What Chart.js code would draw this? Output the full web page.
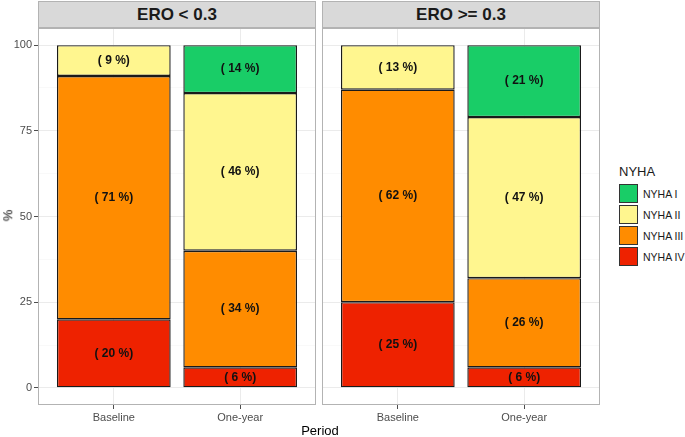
<!DOCTYPE html>
<html lang="en">
<head>
    <meta charset="UTF-8">
    <title>NYHA by ERO</title>
    <script src="https://cdn.jsdelivr.net/npm/chart.js"></script>
    <style>
        body { margin: 0; background: #fff; font-family: "Liberation Sans", Arial, sans-serif; overflow: hidden; }
        #wrap { position: relative; width: 685px; height: 437px; }
        canvas { position: absolute; top: 0; }
        .strip {
            position: absolute; top: 1px; height: 27px; box-sizing: border-box;
            background: #d9d9d9; border: 1px solid #b3b3b3;
            font-size: 17px; font-weight: bold; color: #1a1a1a; text-align: center; line-height: 25px;
        }
        .legend { position: absolute; left: 619px; top: 164px; font-size: 10.5px; color: #1a1a1a; white-space: nowrap; }
        .legend .title { font-size: 13px; margin-bottom: 4px; }
        .legend .row { display: flex; align-items: center; height: 21px; }
        .legend .key { width: 17px; height: 17px; border: 1px solid #333; margin-right: 5px; flex: none; }
    </style>
</head>
<body>
<div id="wrap">
    <canvas id="panelLow" style="left:0px"></canvas>
    <canvas id="panelHigh" style="left:322px"></canvas>
    <div class="strip" style="left:38px;width:278px">ERO &lt; 0.3</div>
    <div class="strip" style="left:322px;width:278px">ERO &gt;= 0.3</div>
    <div style="position:absolute;left:0;width:640px;top:423px;text-align:center;font-size:13px;color:#000;">Period</div>
    <div style="position:absolute;left:2px;top:208px;font-size:13px;color:#000;transform:rotate(-90deg);">%</div>
    <div class="legend" id="legend"></div>
</div>

<script>
    // data
    const periods = ["Baseline", "One-year"];
    const facets = ["ERO < 0.3", "ERO >= 0.3"];
    const classes = ["NYHA I", "NYHA II", "NYHA III", "NYHA IV"];
    const colors = ["#19cd67", "#fff68f", "#ff8c00", "#ee2200"];
    const yTicks = [0, 25, 50, 75, 100];

    const lowI = [null, 14];
    const lowII = [9, 46];
    const lowIII = [71, 34];
    const lowIV = [20, 6];

    const highI = [null, 21];
    const highII = [13, 47];
    const highIII = [62, 26];
    const highIV = [25, 6];

    const borderPlugin = {
        id: "panelBorder",
        afterDraw(chart) {
            const a = chart.chartArea;
            const ctx = chart.ctx;
            ctx.save();
            ctx.strokeStyle = "#b3b3b3";
            ctx.lineWidth = 1;
            ctx.strokeRect(a.left + 0.5, a.top + 0.5, a.right - a.left - 1, a.bottom - a.top - 1);
            ctx.restore();
        }
    };

    const labelPlugin = {
        id: "barLabels",
        afterDatasetsDraw(chart) {
            const ctx = chart.ctx;
            ctx.save();
            ctx.font = "bold 12px 'Liberation Sans', Arial, sans-serif";
            ctx.fillStyle = "#111";
            ctx.textAlign = "center";
            ctx.textBaseline = "middle";
            chart.data.datasets.forEach((ds, di) => {
                chart.getDatasetMeta(di).data.forEach((el, i) => {
                    const v = ds.data[i].y;
                    if (v === null) return;
                    ctx.fillText("( " + v + " %)", el.x, (el.y + el.base) / 2);
                });
            });
            ctx.restore();
        }
    };

    function makeDatasets(series) {
        // bottom to top: IV, III, II, I
        return [3, 2, 1, 0].map(k => ({
            label: classes[k],
            data: series[k].map((v, i) => ({ x: i + 1, y: v })),
            backgroundColor: colors[k],
            borderColor: "#1a1a1a",
            borderWidth: 1.4,
            borderSkipped: false,
            categoryPercentage: 1,
            barPercentage: 0.9
        }));
    }

    function isMajor(v) { return yTicks.includes(v); }

    function drawPanel(id, width, series, showY) {
        const cv = document.getElementById(id);
        cv.width = width;
        cv.height = 437;
        cv.style.width = width + "px";
        cv.style.height = "437px";
        new Chart(cv, {
            type: "bar",
            data: { datasets: makeDatasets(series) },
            plugins: [borderPlugin, labelPlugin],
            options: {
                responsive: false,
                animation: false,
                layout: { padding: { top: 28, left: 0, right: 0, bottom: 0 } },
                plugins: { legend: { display: false }, tooltip: { enabled: false } },
                scales: {
                    x: {
                        type: "linear",
                        stacked: true,
                        offset: false,
                        min: 0.4,
                        max: 2.6,
                        afterBuildTicks: s => { s.ticks = periods.map((p, i) => ({ value: i + 1 })); },
                        afterFit: s => { s.height = 32; },
                        ticks: {
                            callback: v => periods[v - 1],
                            color: "#4d4d4d",
                            font: { family: "'Liberation Sans', Arial, sans-serif", size: 11 },
                            padding: 2,
                            maxRotation: 0
                        },
                        grid: { offset: false, color: "#ebebeb", lineWidth: 1, tickLength: 4, tickColor: "#4d4d4d" },
                        border: { display: false }
                    },
                    y: {
                        stacked: true,
                        min: -5,
                        max: 105,
                        afterBuildTicks: s => {
                            const t = [];
                            for (let v = 0; v <= 100; v += 12.5) t.push({ value: v });
                            s.ticks = t;
                        },
                        afterFit: s => { s.width = showY ? 38 : 0; },
                        ticks: {
                            display: showY,
                            callback: v => isMajor(v) ? String(v) : "",
                            color: "#4d4d4d",
                            font: { family: "'Liberation Sans', Arial, sans-serif", size: 11 },
                            padding: 2
                        },
                        grid: {
                            color: c => isMajor(c.tick.value) ? "#ebebeb" : "#f5f5f5",
                            lineWidth: c => isMajor(c.tick.value) ? 1 : 0.6,
                            drawTicks: showY,
                            tickLength: 4,
                            tickColor: c => isMajor(c.tick.value) ? "#4d4d4d" : "rgba(0,0,0,0)"
                        },
                        border: { display: false }
                    }
                }
            }
        });
    }

    drawPanel("panelLow", 316, [lowI, lowII, lowIII, lowIV], true);
    drawPanel("panelHigh", 278, [highI, highII, highIII, highIV], false);

    const legend = document.getElementById("legend");
    legend.innerHTML = '<div class="title">NYHA</div>' + classes.map((c, k) =>
        '<div class="row"><div class="key" style="background:' + colors[k] + '"></div>' + c + '</div>'
    ).join("");
</script>
</body>
</html>
